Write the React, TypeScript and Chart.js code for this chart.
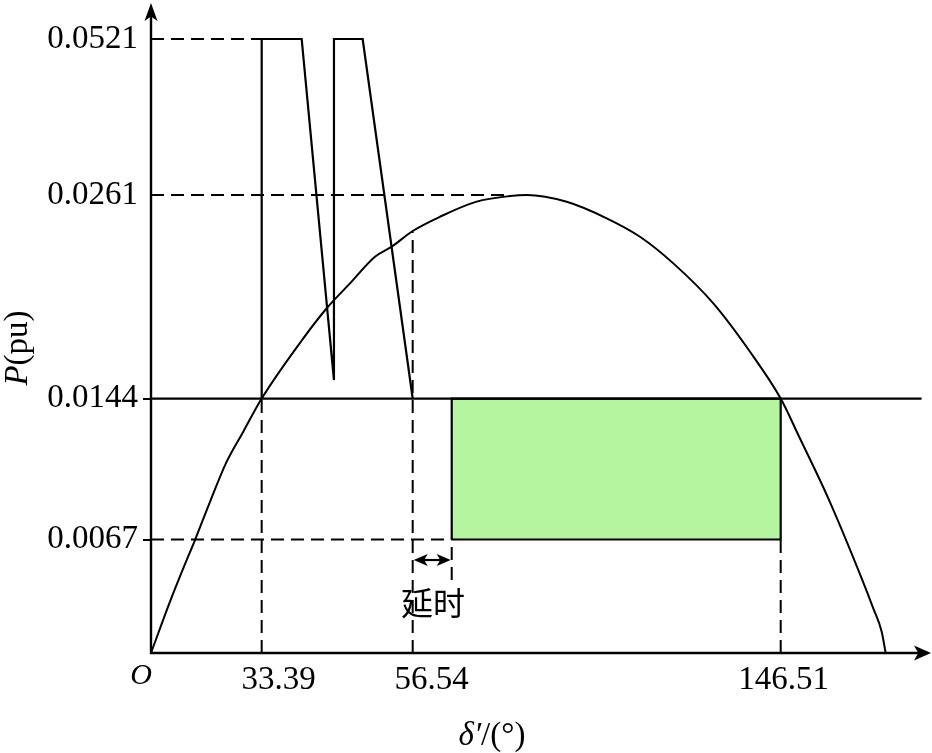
import React, { useEffect, useRef } from 'react';
import { Chart, registerables, LinearScale } from 'chart.js';

// ---------------- data ----------------
const X_TICKS = [33.39, 56.54, 146.51];
const X_TICK_LABELS = ['33.39', '56.54', '146.51'];
const Y_TICKS = [0.0067, 0.0144, 0.0261, 0.0521];
const Y_TICK_LABELS = ['0.0067', '0.0144', '0.0261', '0.0521'];
const Y_TICKS_MARKED = [0.0067, 0.0144];

// power-angle curve P(δ′)
const CURVE_X = [0, 5.73, 9.74, 13.27, 17.8, 22.83, 27.84, 33.39, 39.77, 43.36, 46.93, 50.76, 53.32, 56.54, 63.21, 72.19, 80.33, 84.41, 94.19, 103.97, 112.11, 120.26, 130.04, 139.01, 146.51, 150.82, 158.16, 166.33, 169.17, 171.23, 172.2];
const CURVE_P = [0, 0.00303, 0.005, 0.00667, 0.00876, 0.01095, 0.01259, 0.0144, 0.01786, 0.01959, 0.02102, 0.02255, 0.02313, 0.02403, 0.02485, 0.02572, 0.02604, 0.0261, 0.02571, 0.02476, 0.0237, 0.02217, 0.01987, 0.01709, 0.0144, 0.01241, 0.00895, 0.00441, 0.00264, 0.00126, 0];

// trajectory (zig-zag)
const TRAJ_X = [33.39, 33.39, 39.52, 44.47, 44.47, 48.87, 56.54];
const TRAJ_P = [0.0144, 0.0521, 0.0521, 0.01546, 0.0521, 0.0521, 0.0144];

// operating (solid) line
const OP_P = 0.0144;
const OP_X_END = 181.0;

// dashed guide lines
const GUIDE_H_P = [0.0521, 0.0261, 0.0067];
const GUIDE_H_XEND = [33.39, 79.84, 66.08];
const GUIDE_V_X = [33.39, 56.54, 146.51, 66.08];
const GUIDE_V_PTOP = [0.0144, 0.024, 0.0067, 0.0067];
const GUIDE_V_PBOTTOM = [0, 0, 0, 0.00431];

// green area
const BOX_X = [66.08, 146.51];
const BOX_P = [0.0067, 0.0144];

// delay annotation
const DELAY_X = [56.54, 66.08];
const DELAY_P = 0.00549;
const DELAY_LABEL = '延时';
const DELAY_LABEL_X = 61.5;
const DELAY_LABEL_P = 0.00295;

// ---------------- piecewise-linear (schematic) scale ----------------
function mapFwd(vals: number[], fr: number[], v: number) {
  const n = vals.length;
  if (v <= vals[0]) return fr[0] + (v - vals[0]) * (fr[1] - fr[0]) / (vals[1] - vals[0]);
  for (let i = 1; i < n; i++) {
    if (v <= vals[i] || i === n - 1) {
      return fr[i - 1] + (v - vals[i - 1]) * (fr[i] - fr[i - 1]) / (vals[i] - vals[i - 1]);
    }
  }
  return fr[n - 1];
}
function mapInv(vals: number[], fr: number[], f: number) {
  const n = vals.length;
  for (let i = 1; i < n; i++) {
    if (f <= fr[i] || i === n - 1) {
      return vals[i - 1] + (f - fr[i - 1]) * (vals[i] - vals[i - 1]) / (fr[i] - fr[i - 1]);
    }
  }
  return vals[n - 1];
}

class PiecewiseScale extends LinearScale {
  static id = 'piecewise';
  static defaults = LinearScale.defaults;
  getPixelForValue(value: any) {
    if (value === null || value === undefined || isNaN(value)) return NaN;
    const o: any = this.options;
    return this.getPixelForDecimal(mapFwd(o.breakValues, o.breakFractions, +value));
  }
  getValueForPixel(pixel: number) {
    const o: any = this.options;
    return mapInv(o.breakValues, o.breakFractions, this.getDecimalForPixel(pixel));
  }
  getPixelForTick(index: number) {
    const o: any = this.options;
    const base: any = super.getPixelForTick(index);
    const s = o.labelShifts;
    return base + (s && s[index] ? s[index] : 0);
  }
}

Chart.register(...registerables, PiecewiseScale);

const SERIF = '"Liberation Serif", "Times New Roman", serif';

function pts(xs: number[], ys: number[]) {
  return xs.map((x, i) => ({ x, y: ys[i] }));
}

function arrowHead(ctx: CanvasRenderingContext2D, tx: number, ty: number, dx: number, dy: number, len: number, hw: number) {
  const bx = tx - dx * len, by = ty - dy * len;
  const nx = -dy, ny = dx;
  const mx = tx - dx * len * 0.75, my = ty - dy * len * 0.75;
  ctx.beginPath();
  ctx.moveTo(tx, ty);
  ctx.lineTo(bx + nx * hw, by + ny * hw);
  ctx.lineTo(mx, my);
  ctx.lineTo(bx - nx * hw, by - ny * hw);
  ctx.closePath();
  ctx.fill();
}

function drawRuns(ctx: CanvasRenderingContext2D, runs: [string, string][], cx: number, baseY: number) {
  let total = 0;
  const ws: number[] = [];
  for (const [font, text] of runs) {
    ctx.font = font;
    const w = ctx.measureText(text).width;
    ws.push(w);
    total += w;
  }
  let x = cx - total / 2;
  ctx.textAlign = 'left';
  ctx.textBaseline = 'alphabetic';
  runs.forEach(([font, text], i) => {
    ctx.font = font;
    ctx.fillText(text, x, baseY);
    x += ws[i];
  });
}

const decorPlugin = {
  id: 'decor',
  afterDatasetsDraw(chart: any) {
    const { ctx, chartArea } = chart;
    const xs = chart.scales.x, ys = chart.scales.y;
    const x0 = xs.getPixelForValue(0);
    const y0 = ys.getPixelForValue(0);
    ctx.save();
    ctx.strokeStyle = '#000';
    ctx.fillStyle = '#000';
    ctx.lineWidth = 2.4;
    ctx.setLineDash([]);
    // y axis
    ctx.beginPath();
    ctx.moveTo(x0, y0 + 1);
    ctx.lineTo(x0, chartArea.top + 12);
    ctx.stroke();
    arrowHead(ctx, x0, chartArea.top, 0, -1, 18, 6.5);
    // x axis
    ctx.beginPath();
    ctx.moveTo(x0 - 1, y0);
    ctx.lineTo(chartArea.right - 12, y0);
    ctx.stroke();
    arrowHead(ctx, chartArea.right, y0, 1, 0, 17, 7.5);

    // delay double arrow
    const dy = ys.getPixelForValue(DELAY_P);
    const dx1 = xs.getPixelForValue(DELAY_X[0]);
    const dx2 = xs.getPixelForValue(DELAY_X[1]);
    ctx.lineWidth = 2.2;
    ctx.beginPath();
    ctx.moveTo(dx1 + 6, dy);
    ctx.lineTo(dx2 - 6, dy);
    ctx.stroke();
    arrowHead(ctx, dx1 + 1, dy, -1, 0, 14, 6);
    arrowHead(ctx, dx2 - 1, dy, 1, 0, 14, 6);

    // delay label
    ctx.font = '32px "Noto Sans CJK SC", sans-serif';
    ctx.textAlign = 'center';
    ctx.textBaseline = 'middle';
    ctx.fillText(DELAY_LABEL, xs.getPixelForValue(DELAY_LABEL_X), ys.getPixelForValue(DELAY_LABEL_P));

    // origin label
    ctx.font = 'italic 30px ' + SERIF;
    ctx.textAlign = 'center';
    ctx.textBaseline = 'middle';
    ctx.fillText('O', x0 - 10, y0 + 23);

    // x title
    drawRuns(ctx, [['italic 33px ' + SERIF, 'δ′'], ['33px ' + SERIF, '/(°)']], 492, 745);

    // y title (rotated)
    ctx.save();
    ctx.translate(27, 348);
    ctx.rotate(-Math.PI / 2);
    drawRuns(ctx, [['italic 33px ' + SERIF, 'P'], ['33px ' + SERIF, '(pu)']], 0, 0);
    ctx.restore();

    ctx.restore();
  },
};

export default function App() {
  const ref = useRef<HTMLCanvasElement | null>(null);

  useEffect(() => {
    if (!ref.current) return;
    const dash = [13, 7];
    const datasets: any[] = [];

    datasets.push({
      label: 'P-δ curve',
      data: pts(CURVE_X, CURVE_P),
      borderColor: '#000',
      borderWidth: 2,
      cubicInterpolationMode: 'monotone',
      fill: false,
    });
    datasets.push({
      label: 'trajectory',
      data: pts(TRAJ_X, TRAJ_P),
      borderColor: '#000',
      borderWidth: 2.2,
      tension: 0,
      fill: false,
    });
    datasets.push({
      label: 'operating',
      data: [{ x: 0, y: OP_P }, { x: OP_X_END, y: OP_P }],
      borderColor: '#000',
      borderWidth: 2.2,
      fill: false,
    });
    GUIDE_H_P.forEach((p, i) => {
      datasets.push({
        label: 'gh' + i,
        data: [{ x: 0, y: p }, { x: GUIDE_H_XEND[i], y: p }],
        borderColor: '#000',
        borderWidth: 2,
        borderDash: dash,
        fill: false,
      });
    });
    GUIDE_V_X.forEach((xv, i) => {
      datasets.push({
        label: 'gv' + i,
        data: [{ x: xv, y: GUIDE_V_PBOTTOM[i] }, { x: xv, y: GUIDE_V_PTOP[i] }],
        borderColor: '#000',
        borderWidth: 2,
        borderDash: dash,
        fill: false,
      });
    });
    datasets.push({
      label: 'box outline',
      data: [
        { x: BOX_X[0], y: BOX_P[0] },
        { x: BOX_X[0], y: BOX_P[1] },
        { x: BOX_X[1], y: BOX_P[1] },
        { x: BOX_X[1], y: BOX_P[0] },
        { x: BOX_X[0], y: BOX_P[0] },
      ],
      borderColor: '#000',
      borderWidth: 2.2,
      fill: false,
    });
    datasets.push({
      label: 'box fill',
      data: [{ x: BOX_X[0], y: BOX_P[1] }, { x: BOX_X[1], y: BOX_P[1] }],
      borderWidth: 0,
      borderColor: 'rgba(0,0,0,0)',
      backgroundColor: '#b5f5a0',
      fill: { value: BOX_P[0] },
      order: 10,
    });

    const tickFont = { family: SERIF, size: 33 };

    const chart = new Chart(ref.current, {
      type: 'line',
      data: { datasets },
      options: {
        responsive: false,
        animation: false,
        events: [],
        layout: { padding: { top: 3, right: 1, left: 0, bottom: 0 } },
        plugins: { legend: { display: false }, tooltip: { enabled: false } },
        elements: {
          point: { radius: 0, hoverRadius: 0 },
          line: { tension: 0, borderCapStyle: 'butt', borderJoinStyle: 'miter' },
        },
        scales: {
          x: {
            type: 'piecewise',
            min: 0,
            max: 183.3,
            breakValues: [0, 33.39, 56.54, 146.51, 183.3],
            breakFractions: [0, 0.1419, 0.3355, 0.8073, 1],
            labelShifts: [17, 19, 3],
            grid: { display: false, drawTicks: false },
            border: { display: false },
            ticks: {
              padding: 8,
              font: tickFont,
              color: '#000',
              autoSkip: false,
              maxRotation: 0,
              callback: (v: any) => {
                const i = X_TICKS.indexOf(+v);
                return i >= 0 ? X_TICK_LABELS[i] : '';
              },
            },
            afterBuildTicks: (s: any) => {
              s.ticks = X_TICKS.map((v) => ({ value: v }));
            },
            afterFit: (s: any) => {
              s.height = 100;
              s.paddingLeft = 0;
              s.paddingRight = 0;
            },
          } as any,
          y: {
            type: 'piecewise',
            min: 0,
            max: 0.058,
            breakValues: [0, 0.0067, 0.0144, 0.0261, 0.0521, 0.058],
            breakFractions: [0, 0.1746, 0.3915, 0.7046, 0.9446, 1],
            grid: {
              display: true,
              drawOnChartArea: false,
              drawTicks: true,
              tickLength: 8,
              lineWidth: 2,
              color: (c: any) => (c.tick && Y_TICKS_MARKED.includes(c.tick.value) ? '#000' : 'rgba(0,0,0,0)'),
            },
            border: { display: false },
            ticks: {
              padding: 5,
              font: tickFont,
              color: '#000',
              autoSkip: false,
              callback: (v: any) => {
                const i = Y_TICKS.indexOf(+v);
                return i >= 0 ? Y_TICK_LABELS[i] : '';
              },
            },
            afterBuildTicks: (s: any) => {
              s.ticks = Y_TICKS.map((v) => ({ value: v }));
            },
            afterFit: (s: any) => {
              s.width = 151;
              s.paddingTop = 0;
              s.paddingBottom = 0;
            },
          } as any,
        },
      } as any,
      plugins: [decorPlugin],
    });
    return () => chart.destroy();
  }, []);

  return (
    <div style={{ position: 'absolute', left: 0, top: 0, width: 932, height: 753, background: '#fff' }}>
      <canvas ref={ref} width={932} height={753} style={{ display: 'block', width: 932, height: 753 }} />
    </div>
  );
}
